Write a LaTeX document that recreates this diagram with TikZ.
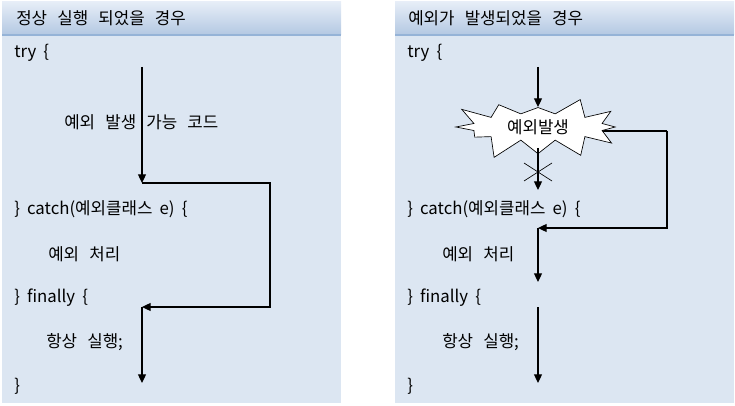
\documentclass[tikz,border=0pt]{standalone}
\usepackage{fontspec}
\setmainfont[WordSpace=1.9]{Noto Sans CJK KR}
\newfontfamily\hangul[WordSpace=2.7]{Noto Sans CJK KR}
\usetikzlibrary{shapes.symbols, arrows.meta, positioning}
\definecolor{bodyblue}{HTML}{DCE6F2}
\definecolor{headtop}{HTML}{E6EDF7}
\definecolor{headbot}{HTML}{B3C8E2}
\definecolor{headline}{HTML}{95B3D7}

\begin{document}
\begin{tikzpicture}[x=0.75pt, y=-0.75pt, font=\fontsize{12.6pt}{15pt}\selectfont]
    \tikzstyle{panel} = [fill=bodyblue, draw=none]
    \tikzstyle{head} = [top color=headtop, bottom color=headbot, draw=none]
    \tikzstyle{code} = [anchor=west, inner sep=0pt]
    \tikzstyle{kor} = [code, font=\fontsize{12.6pt}{15pt}\hangul]
    \tikzstyle{arrow} = [line width=0.9pt, ->, >={Triangle[width=6pt,length=6.5pt]}]
    \tikzstyle{line} = [line width=0.9pt]
    \tikzstyle{boom} = [starburst, draw, fill=white, line width=0.5pt, starburst points=12, starburst point height=17pt, random starburst=23, inner xsep=12pt, inner ysep=1.5pt]

    \useasboundingbox (0,0) rectangle (735,406);

    % left panel
    \fill[panel] (2,35) rectangle (341,403);
    \shade[head] (2,2) rectangle (341,35);
    \draw[headline, line width=1pt] (2,35) -- (341,35);
    \node (lhead) [kor] at (16,18) {정상 실행 되었을 경우};
    \node (ltry) [code] at (14,53) {try \{};
    \node (lcode) [kor] at (64,122) {예외 발생 가능 코드};
    \node (lcatch) [code] at (14,209) {\} catch(예외클래스 e) \{};
    \node (lhandle) [kor] at (48,254) {예외 처리};
    \node (lfinal) [code] at (14,298) {\} finally \{};
    \node (lrun) [kor] at (46,342) {항상 실행;};
    \node (lend) [code] at (14,386) {\}};

    \coordinate (a1) at (142,67);
    \coordinate (a2) at (142,183);
    \coordinate (a3) at (270,183);
    \coordinate (a4) at (270,307);
    \coordinate (a5) at (142,307);
    \coordinate (a6) at (142,383);
    \draw [arrow] (a1) -- (a2);
    \draw [arrow] (a2) -- (a3) -- (a4) -- (a5);
    \draw [arrow] (a5) -- (a6);

    % right panel
    \fill[panel] (395,35) rectangle (734,403);
    \shade[head] (395,2) rectangle (734,35);
    \draw[headline, line width=1pt] (395,35) -- (734,35);
    \node (rhead) [kor] at (408,18) {예외가 발생되었을 경우};
    \node (rtry) [code] at (407,53) {try \{};
    \node (rcatch) [code] at (407,209) {\} catch(예외클래스 e) \{};
    \node (rhandle) [kor] at (442,254) {예외 처리};
    \node (rfinal) [code] at (407,298) {\} finally \{};
    \node (rrun) [kor] at (442,342) {항상 실행;};
    \node (rend) [code] at (407,386) {\}};

    \coordinate (b1) at (538,67);
    \coordinate (b2) at (538,107);
    \coordinate (b3) at (538,148);
    \coordinate (b4) at (538,190);
    \coordinate (b5) at (667,131);
    \coordinate (b6) at (667,228);
    \coordinate (b7) at (538,228);
    \coordinate (b8) at (538,282);
    \coordinate (b9) at (538,307);
    \coordinate (b10) at (538,383);
    \coordinate (cut) at (538,172);

    \draw [line] (b5) -- (600,131);
    \node (boom) [boom] at (538,127) {예외발생};
    \draw [arrow] (b1) -- (b2);
    \draw [arrow] (b3) -- (b4);
    \draw [line, line width=0.5pt] (cut) ++(-14,-9) -- ++(28,18);
    \draw [line, line width=0.5pt] (cut) ++(-14,9) -- ++(28,-18);
    \draw [arrow] (b5) -- (b6) -- (b7);
    \draw [arrow] (b7) -- (b8);
    \draw [arrow] (b9) -- (b10);
\end{tikzpicture}
\end{document}
